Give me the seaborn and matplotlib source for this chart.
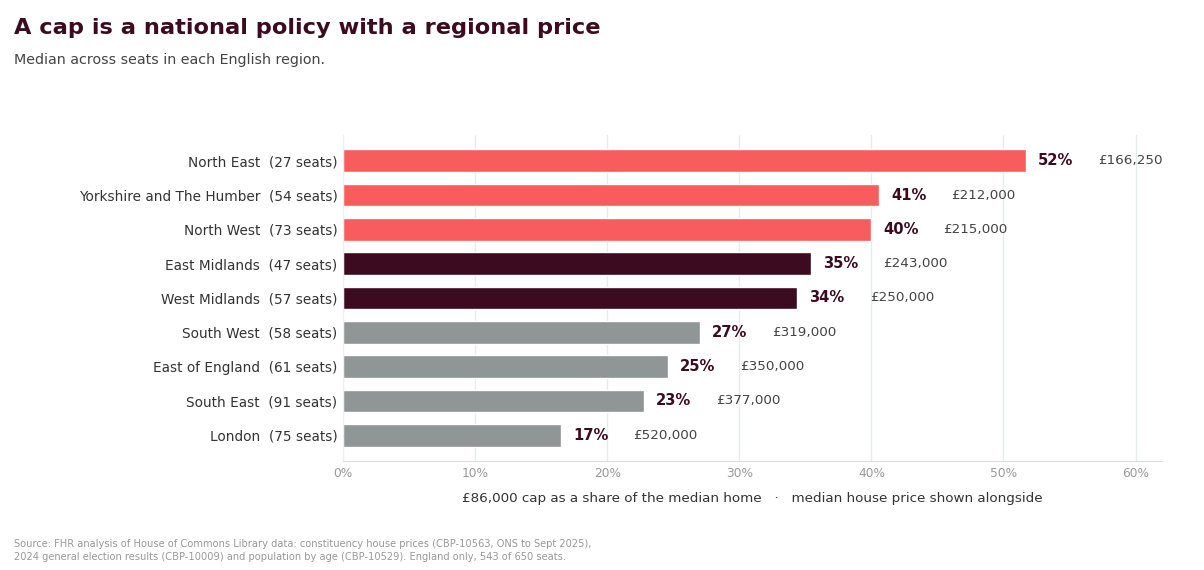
import pandas as pd
import matplotlib.pyplot as plt
import seaborn as sns

regions = ["North East", "Yorkshire and The Humber", "North West", "East Midlands",
           "West Midlands", "South West", "East of England", "South East", "London"]
seats = [27, 54, 73, 47, 57, 58, 61, 91, 75]
share = [51.7, 40.6, 40.0, 35.4, 34.4, 27.0, 24.6, 22.8, 16.5]
share_labels = ["52%", "41%", "40%", "35%", "34%", "27%", "25%", "23%", "17%"]
price_labels = ["£166,250", "£212,000", "£215,000", "£243,000", "£250,000",
                "£319,000", "£350,000", "£377,000", "£520,000"]
group = ["north", "north", "north", "midlands", "midlands", "south", "south", "south", "south"]
xticks = [0, 10, 20, 30, 40, 50, 60]

CORAL = "#F85C5C"
MAROON = "#3D0B1F"
GREY = "#909596"


def main():
    sns.set_style("white")
    plt.rcParams['font.family'] = ['DejaVu Sans']

    df = pd.DataFrame({
        'label': [f"{r}  ({s} seats)" for r, s in zip(regions, seats)],
        'share': share,
        'group': group,
    })

    fig = plt.figure(figsize=(12.04, 5.70), dpi=100)
    ax = fig.add_axes([0.2849, 0.1912, 0.6802, 0.5720])
    sns.barplot(data=df, x='share', y='label', hue='group', orient='h',
                palette={'north': CORAL, 'midlands': MAROON, 'south': GREY},
                width=0.66, legend=False, dodge=False, ax=ax, saturation=1)

    for i, v in enumerate(share):
        ax.annotate(share_labels[i], (v, i), xytext=(8.6, 0), textcoords='offset points',
                    va='center', ha='left', fontsize=10.6, fontweight='bold', color=MAROON)
        ax.annotate(price_labels[i], (v, i), xytext=(52, 0), textcoords='offset points',
                    va='center', ha='left', fontsize=9.7, color='#444444')

    ax.set_xlim(0, 62)
    ax.set_ylim(8.75, -0.75)
    ax.set_xticks(xticks)
    ax.set_xticklabels([f"{t}%" for t in xticks])
    ax.tick_params(axis='x', colors='#999999', labelsize=8.8, length=0, pad=4)
    ax.tick_params(axis='y', labelcolor='#333333', labelsize=9.8, length=0, pad=4)
    ax.set_ylabel("")
    ax.set_xlabel("£86,000 cap as a share of the median home   ·   median house price shown alongside",
                  fontsize=9.7, color='#333333', labelpad=9)
    ax.grid(axis='x', color='#E6ECEC', linewidth=1)
    ax.set_axisbelow(True)
    for s in ['top', 'right']:
        ax.spines[s].set_visible(False)
    ax.spines['left'].set_color('#EEF0F0')
    ax.spines['bottom'].set_color('#DDDDDD')

    fig.text(0.0116, 0.968, "A cap is a national policy with a regional price",
             fontsize=16.2, fontweight='bold', color=MAROON, va='top', ha='left')
    fig.text(0.0116, 0.907, "Median across seats in each English region.",
             fontsize=10.3, color='#444444', va='top', ha='left')
    fig.text(0.0116, 0.034,
             "Source: FHR analysis of House of Commons Library data: constituency house prices (CBP-10563, ONS to Sept 2025),\n"
             "2024 general election results (CBP-10009) and population by age (CBP-10529). England only, 543 of 650 seats.",
             fontsize=7.1, color='#999999', va='center', ha='left', linespacing=1.3)

    plt.savefig("out.png", dpi=100)
    plt.close('all')


if __name__ == "__main__":
    main()
